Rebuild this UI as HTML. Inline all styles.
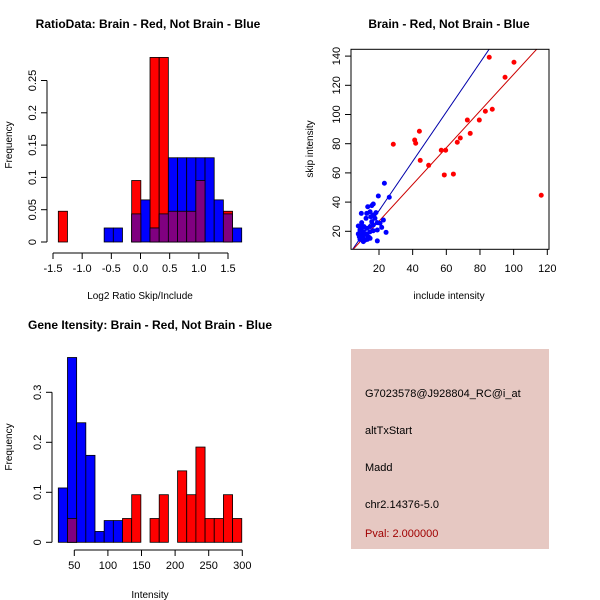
<!DOCTYPE html>
<html><head><meta charset="utf-8"><style>
body{margin:0;background:#fff;}
svg{display:block;font-family:"Liberation Sans",sans-serif;}
</style></head><body>
<svg id="s" width="600" height="600" viewBox="0 0 600 600" xmlns="http://www.w3.org/2000/svg">
<rect x="0" y="0" width="600" height="600" fill="#fff"/>
<text x="148" y="28" text-anchor="middle" font-size="12" font-weight="bold">RatioData: Brain - Red, Not Brain - Blue</text>
<text x="449" y="28" text-anchor="middle" font-size="12" font-weight="bold">Brain - Red, Not Brain - Blue</text>
<text x="150" y="329" text-anchor="middle" font-size="12" font-weight="bold">Gene Itensity: Brain - Red, Not Brain - Blue</text>
<text x="140" y="299" text-anchor="middle" font-size="10">Log2 Ratio Skip/Include</text>
<text transform="translate(12,145) rotate(-90)" text-anchor="middle" font-size="10">Frequency</text>
<text x="449" y="299" text-anchor="middle" font-size="10">include intensity</text>
<text transform="translate(313,149) rotate(-90)" text-anchor="middle" font-size="10">skip intensity</text>
<text x="150" y="598" text-anchor="middle" font-size="10">Intensity</text>
<text transform="translate(12,447) rotate(-90)" text-anchor="middle" font-size="10">Frequency</text>
<g>
<rect x="351" y="349" width="198" height="200" fill="#e6c8c2"/>
<text x="365" y="397" font-size="11">G7023578@J928804_RC@i_at</text>
<text x="365" y="434" font-size="11">altTxStart</text>
<text x="365" y="471" font-size="11">Madd</text>
<text x="365" y="508" font-size="11">chr2.14376-5.0</text>
<text x="365" y="537" font-size="11" fill="#a00000">Pval: 2.000000</text>
</g>
</svg>
<script>
// Ratio histogram (bins start at ratioStart, width ratioWidth)
const ratioStart=-1.409, ratioWidth=0.1572;
const ratioRed=[0.0476,0,0,0,0,0,0,0,0.0952,0,0.2857,0.2857,0.0476,0.0476,0.0476,0.0952,0,0,0.0476,0];
const ratioBlue=[0,0,0,0,0,0.0217,0.0217,0,0.0435,0.0652,0.0217,0.0435,0.1304,0.1304,0.1304,0.1304,0.1304,0.0652,0.0435,0.0217];
const ratioXTicks=[-1.5,-1.0,-0.5,0.0,0.5,1.0,1.5];
const ratioYTicks=[0,0.05,0.1,0.15,0.2,0.25];
// Gene intensity histogram
const geneStart=26.2, geneWidth=13.65;
const geneRed=[0,0.0476,0,0,0,0,0,0.0476,0.0952,0,0.0476,0.0952,0,0.1429,0.0952,0.1905,0.0476,0.0476,0.0952,0.0476];
const geneBlue=[0.1087,0.3696,0.2391,0.1739,0.0217,0.0435,0.0435,0,0,0,0,0,0,0,0,0,0,0,0,0];
const geneXTicks=[50,100,150,200,250,300];
const geneYTicks=[0,0.1,0.2,0.3];
// Scatter
const redX=[28.5,41.2,41.8,44,44.5,49.5,57,59.6,58.8,64.2,66.5,68.3,72.5,74.2,79.6,83.2,87.3,85.5,94.9,100.2,116.4];
const redY=[79.6,82.5,80.3,88.5,68.6,65.2,75.5,75.5,58.6,59.2,81,83.9,96.2,87.1,96.2,102.2,103.6,139.2,125.5,135.8,44.7];
const blueX=[23.2,19.6,26.1,16.6,13.3,15.7,9.5,12.7,14.7,18.2,16.6,15.1,17.6,15.7,7.7,9.7,11.1,8.7,10.7,12.7,14.7,16.6,19.0,22.6,19.0,21.6,24.2,7.7,9.1,10.7,12.7,14.7,8.7,11.7,13.7,10.7,19.0,14.7,9.7,12.3,20.6,16.6,8.3,10.3,13.1,9.5];
const blueY=[52.9,44.2,43.3,38.7,36.8,37.6,32.3,32.3,33.4,32.8,31.2,30,28.9,26.6,23.6,23.9,23.2,20.9,19.7,22,23.2,24.3,25.9,27.7,20.9,22.7,19.3,18.2,17.5,16.3,18.2,15.2,14.5,14,16.3,12.9,13.4,19.7,25.9,28.9,25.5,20.4,16.3,19,14.5,21];
const redLine=[1.8,1.257], blueLine=[0.3,1.69];
const scXTicks=[20,40,60,80,100,120];
const scYTicks=[20,40,60,80,100,120,140];

const NS="http://www.w3.org/2000/svg", svg=document.getElementById('s');
function mk(t,a,p){const e=document.createElementNS(NS,t);for(const k in a)e.setAttribute(k,a[k]);(p||svg).appendChild(e);return e;}
function lin(d0,d1,r0,r1){return v=>r0+(v-d0)*(r1-r0)/(d1-d0);}

function hist(name,start,w,red,blue,xs,ys,xt,yt,axY,axX,fmt){
  const g=mk('g',{});
  
  
  const y0=ys(0);
  red.forEach((v,i)=>{if(v<=0)return;const x0=xs(start+i*w),x1=xs(start+(i+1)*w);
    const r=mk('rect',{x:x0,y:ys(v),width:x1-x0,height:y0-ys(v),fill:'#ff0000',stroke:'#000','stroke-width':0.8},g);
    });
  blue.forEach((v,i)=>{if(v<=0)return;const x0=xs(start+i*w),x1=xs(start+(i+1)*w);
    const r=mk('rect',{x:x0,y:ys(v),width:x1-x0,height:y0-ys(v),fill:'#0000ff',stroke:'#000','stroke-width':0.8},g);
    });
  red.forEach((v,i)=>{const m=Math.min(v,blue[i]);if(m<=0)return;const x0=xs(start+i*w),x1=xs(start+(i+1)*w);
    const r=mk('rect',{x:x0,y:ys(m),width:x1-x0,height:y0-ys(m),fill:'#800080',stroke:'#000','stroke-width':0.8},g);
    });
  mk('line',{x1:xs(xt[0]),x2:xs(xt[xt.length-1]),y1:axY,y2:axY,stroke:'#000'},g);
  xt.forEach(t=>{mk('line',{x1:xs(t),x2:xs(t),y1:axY,y2:axY+6,stroke:'#000'},g);
    mk('text',{x:xs(t),y:axY+19,'text-anchor':'middle','font-size':11},g).textContent=fmt(t);});
  mk('line',{x1:axX,x2:axX,y1:ys(yt[0]),y2:ys(yt[yt.length-1]),stroke:'#000'},g);
  yt.forEach(t=>{mk('line',{x1:axX,x2:axX-6,y1:ys(t),y2:ys(t),stroke:'#000'},g);
    mk('text',{transform:`translate(${axX-11},${ys(t)}) rotate(-90)`,'text-anchor':'middle','font-size':11},g).textContent=String(t);});
}
hist('ratio-histogram',ratioStart,ratioWidth,ratioRed,ratioBlue,lin(-1.5,1.5,53,228),lin(0,0.25,242,80.5),ratioXTicks,ratioYTicks,253,47,t=>t.toFixed(1));
hist('gene-histogram',geneStart,geneWidth,geneRed,geneBlue,lin(50,300,74.3,242.3),lin(0,0.3,542.3,392.3),geneXTicks,geneYTicks,550,52,t=>String(t));

// scatter
const sx=lin(20,120,379,547.3), sy=lin(20,140,231.3,56.1);
const sg=mk('g',{});


mk('defs',{}).innerHTML='<clipPath id="cp"><rect x="351" y="49.3" width="198" height="200"/></clipPath>';
const lg=mk('g',{'clip-path':'url(#cp)'},sg);
[[blueLine,'#0000aa','blue-fit-line'],[redLine,'#cc0000','red-fit-line']].forEach(([c,col,n])=>{
  const l=mk('line',{x1:sx(0),y1:sy(c[0]),x2:sx(130),y2:sy(c[0]+c[1]*130),stroke:col,'stroke-width':1},lg);
  });
redX.forEach((v,i)=>{const c=mk('circle',{cx:sx(v),cy:sy(redY[i]),r:2.5,fill:'#ff0000'},sg);
  });
blueX.forEach((v,i)=>{const c=mk('circle',{cx:sx(v),cy:sy(blueY[i]),r:2.5,fill:'#0000ff'},sg);
  });
mk('rect',{x:351,y:49.3,width:198,height:200,fill:'none',stroke:'#000'},sg);
scXTicks.forEach(t=>{mk('line',{x1:sx(t),x2:sx(t),y1:249.3,y2:255,stroke:'#000'},sg);
  mk('text',{x:sx(t),y:272,'text-anchor':'middle','font-size':11},sg).textContent=String(t);});
scYTicks.forEach(t=>{mk('line',{x1:351,x2:345,y1:sy(t),y2:sy(t),stroke:'#000'},sg);
  mk('text',{transform:`translate(340,${sy(t)}) rotate(-90)`,'text-anchor':'middle','font-size':11},sg).textContent=String(t);});
</script>
</body></html>
